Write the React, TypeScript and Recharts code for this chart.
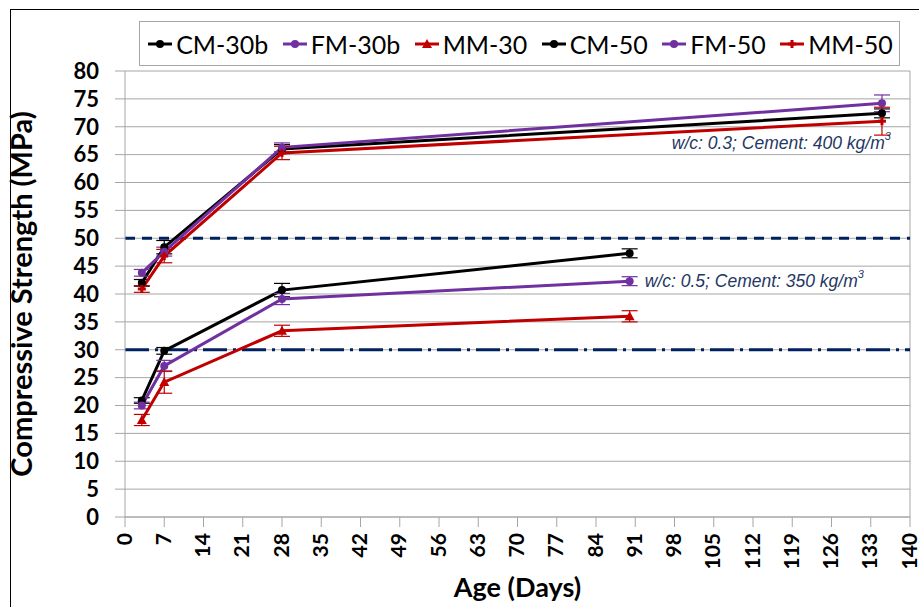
import React from 'react';
import {
  LineChart,
  Line,
  XAxis,
  YAxis,
  CartesianGrid,
  ReferenceLine,
  ReferenceDot,
  ErrorBar,
} from 'recharts';

// age in days for each test
const lowerAges = [3, 7, 28, 90];
const upperAges = [3, 7, 28, 135];

// w/c 0.5 mixes
const cm30b = [20.9, 29.8, 40.7, 47.3];
const cm30bErr = [0.5, 0.6, 1.2, 0.8];
const fm30b = [20.0, 27.1, 39.1, 42.3];
const fm30bErr = [0.6, 1.0, 1.0, 0.8];
const mm30 = [17.4, 24.2, 33.4, 36.0];
const mm30Err = [1.0, 2.0, 1.0, 1.0];

// w/c 0.3 mixes
const cm50 = [42.0, 48.4, 66.0, 72.4];
const cm50Err = [0.6, 1.2, 0.8, 0.8];
const fm50 = [43.8, 47.6, 66.3, 74.2];
const fm50Err = [0.6, 0.8, 0.8, 1.5];
const mm50 = [40.9, 46.8, 65.3, 71.0];
const mm50Err = [0.6, 1.2, 1.2, 2.5];

const xTicks = [0, 7, 14, 21, 28, 35, 42, 49, 56, 63, 70, 77, 84, 91, 98, 105, 112, 119, 126, 133, 140];
const yTicks = [0, 5, 10, 15, 20, 25, 30, 35, 40, 45, 50, 55, 60, 65, 70, 75, 80];

const build = (ages: number[], vals: number[], errs: number[]) =>
  ages.map((age, i) => ({ age, v: vals[i], err: errs[i] }));

const BLACK = '#000000';
const PURPLE = '#7030A0';
const RED = '#C00000';
const NAVY = '#002060';
const FONT = 'Lato, "Open Sans", sans-serif';

const series = [
  { name: 'CM-30b', color: BLACK, data: build(lowerAges, cm30b, cm30bErr), marker: 'circle' },
  { name: 'FM-30b', color: PURPLE, data: build(lowerAges, fm30b, fm30bErr), marker: 'circle' },
  { name: 'MM-30', color: RED, data: build(lowerAges, mm30, mm30Err), marker: 'triangle' },
  { name: 'CM-50', color: BLACK, data: build(upperAges, cm50, cm50Err), marker: 'circle' },
  { name: 'FM-50', color: PURPLE, data: build(upperAges, fm50, fm50Err), marker: 'circle' },
  { name: 'MM-50', color: RED, data: build(upperAges, mm50, mm50Err), marker: 'plus' },
];

const makeDot = (marker: string, color: string) => (props: any) => {
  const { cx, cy, key } = props;
  if (cx == null || cy == null) return null;
  if (marker === 'triangle') {
    return <path key={key} d={`M${cx},${cy - 5}L${cx + 5},${cy + 4}L${cx - 5},${cy + 4}Z`} fill={color} />;
  }
  if (marker === 'plus') {
    return (
      <g key={key}>
        <rect x={cx - 4} y={cy - 1.5} width={8} height={3} fill={color} />
        <rect x={cx - 1.5} y={cy - 4} width={3} height={8} fill={color} />
      </g>
    );
  }
  return <circle key={key} cx={cx} cy={cy} r={4} fill={color} />;
};

const XTick = (props: any) => {
  const { x, y, payload } = props;
  const tx = x - 2;
  return (
    <text
      x={tx}
      y={y}
      transform={`rotate(-90, ${tx}, ${y})`}
      textAnchor="end"
      dominantBaseline="central"
      fontFamily={FONT}
      fontWeight={700}
      fontSize={21}
      fill="#000"
    >
      {payload.value}
    </text>
  );
};

const Note = ({ cx, cy, anchor, text, sup }: any) => (
  <text
    x={cx}
    y={cy}
    textAnchor={anchor}
    dominantBaseline="central"
    fontFamily='"Liberation Sans", Arial, sans-serif'
    fontStyle="italic"
    fontSize={17.5}
    fill="#1F3864"
  >
    {text}
    <tspan dy={-7} fontSize={11}>{sup}</tspan>
  </text>
);

function LegendBox() {
  return (
    <div
      style={{
        position: 'absolute',
        left: 139,
        top: 21,
        width: 761,
        height: 45,
        border: '1px solid #a6a6a6',
        boxSizing: 'border-box',
        background: '#fff',
        display: 'flex',
        alignItems: 'center',
        justifyContent: 'space-around',
        fontFamily: FONT,
        fontSize: 25,
        color: '#000',
      }}
    >
      {series.map((s) => (
        <div key={s.name} style={{ display: 'flex', alignItems: 'center' }}>
          <svg width={28} height={14} style={{ marginRight: 2 }}>
            <line x1={2} y1={7} x2={26} y2={7} stroke={s.color} strokeWidth={3} />
            {s.marker === 'triangle' ? (
              <path d="M14,2L19,11L9,11Z" fill={s.color} />
            ) : s.marker === 'plus' ? (
              <g>
                <rect x={10} y={5.5} width={8} height={3} fill={s.color} />
                <rect x={12.5} y={3} width={3} height={8} fill={s.color} />
              </g>
            ) : (
              <circle cx={14} cy={7} r={4} fill={s.color} />
            )}
          </svg>
          <span>{s.name}</span>
        </div>
      ))}
    </div>
  );
}

export default function App() {
  return (
    <div
      style={{
        position: 'fixed',
        left: 0,
        top: 0,
        width: 919,
        height: 607,
        background: '#fff',
        overflow: 'hidden',
      }}
    >
      <div
        style={{
          position: 'absolute',
          left: 10,
          top: 9,
          width: 1000,
          height: 700,
          borderLeft: '1px solid #000',
          borderTop: '1px solid #000',
        }}
      />
      <div style={{ position: 'absolute', left: 0, top: 0 }}>
        <LineChart width={919} height={607} margin={{ top: 71, right: 9, left: 0, bottom: 0 }}>
          <CartesianGrid vertical={false} stroke="#a6a6a6" strokeWidth={1} />
          <XAxis
            type="number"
            dataKey="age"
            domain={[0, 140]}
            ticks={xTicks}
            interval={0}
            allowDuplicatedCategory={false}
            height={90}
            tickSize={10}
            tickMargin={6}
            stroke="#a6a6a6"
            tick={<XTick />}
            label={{
              value: 'Age (Days)',
              position: 'insideBottom',
              offset: 10,
              style: { fontFamily: FONT, fontWeight: 700, fontSize: 27, fill: '#000' },
            }}
          />
          <YAxis
            type="number"
            domain={[0, 80]}
            ticks={yTicks}
            interval={0}
            width={125}
            tickSize={10}
            tickMargin={16}
            stroke="#a6a6a6"
            tick={{ fontFamily: FONT, fontWeight: 700, fontSize: 22, fill: '#000' }}
            label={{
              value: 'Compressive Strength (MPa)',
              angle: -90,
              position: 'insideLeft',
              offset: 22,
              style: { textAnchor: 'middle', fontFamily: FONT, fontWeight: 700, fontSize: 29, fill: '#000' },
            }}
          />
          <ReferenceLine x={140} stroke="#a6a6a6" />
          <ReferenceLine y={50} stroke={NAVY} strokeWidth={3} strokeDasharray="10 7" />
          <ReferenceLine y={30} stroke={NAVY} strokeWidth={3} strokeDasharray="24 6 3 6" />
          {series.map((s) => (
            <Line
              key={s.name}
              data={s.data}
              dataKey="v"
              name={s.name}
              stroke={s.color}
              strokeWidth={3}
              dot={makeDot(s.marker, s.color)}
              activeDot={false}
              isAnimationActive={false}
            >
              <ErrorBar dataKey="err" direction="y" width={8} stroke={s.color} strokeWidth={1.2} />
            </Line>
          ))}
          <ReferenceDot
            x={136.6}
            y={67.1}
            r={0}
            shape={(p: any) => <Note cx={p.cx} cy={p.cy} anchor="end" text="w/c: 0.3; Cement: 400 kg/m" sup="3" />}
          />
          <ReferenceDot
            x={92.7}
            y={42.3}
            r={0}
            shape={(p: any) => <Note cx={p.cx} cy={p.cy} anchor="start" text="w/c: 0.5; Cement: 350 kg/m" sup="3" />}
          />
        </LineChart>
      </div>
      <LegendBox />
    </div>
  );
}
